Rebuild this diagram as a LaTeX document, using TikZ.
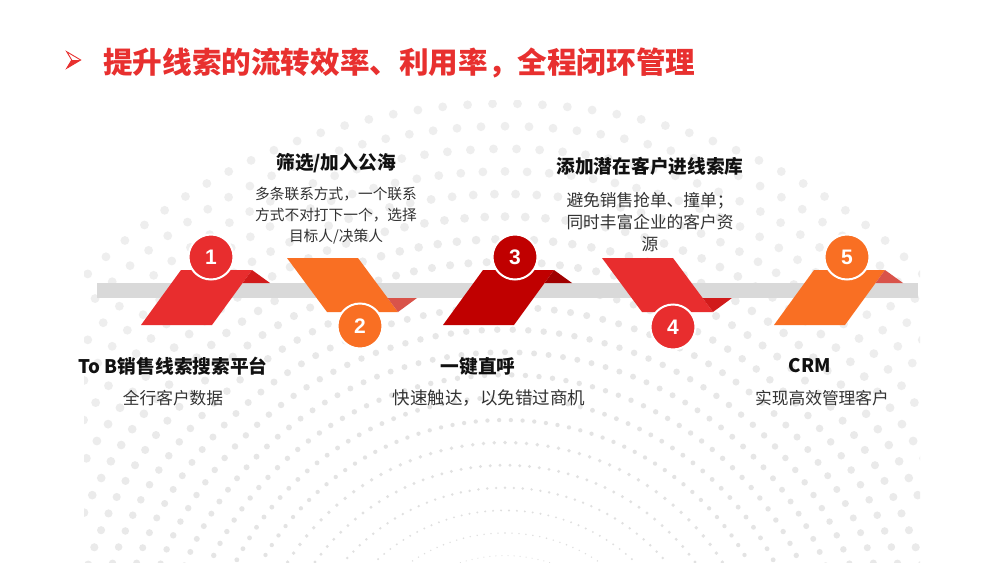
\documentclass[tikz,border=0pt]{standalone}
\usepackage{fontspec}
\setmainfont{Noto Sans CJK SC}
\newfontfamily\numfont{Liberation Sans}
\definecolor{cred}{HTML}{E82D2E}
\definecolor{corange}{HTML}{F96F23}
\definecolor{cdark}{HTML}{C00000}
\definecolor{fred}{HTML}{D11B1B}
\definecolor{fdark}{HTML}{A00000}
\definecolor{forange}{HTML}{D9534A}
\definecolor{cbar}{HTML}{D9D9D9}
\definecolor{ctitle}{HTML}{E8302F}
\definecolor{ctext}{HTML}{111111}
\definecolor{cbody}{HTML}{333333}
\tikzset{
  numc/.style={circle, minimum size=45pt, inner sep=0pt, draw=white, line width=2pt, text=white,
     font=\numfont\bfseries\fontsize{21}{21}\selectfont},
  headt/.style={inner sep=0pt, text=ctext, font=\bfseries\fontsize{18.7}{22}\selectfont},
  bodyt/.style={inner sep=0pt, text=cbody, align=center, font=\fontsize{16.7}{22}\selectfont},
  bodys/.style={inner sep=0pt, text=cbody, align=center, font=\fontsize{14.7}{21}\selectfont},
}
\begin{document}
\begin{tikzpicture}[x=1pt,y=-1pt]
\useasboundingbox (0,0) rectangle (1006,562);
\fill[white] (0,0) rectangle (1006,562);
% background dots
\begin{scope}
\clip (84,100) rectangle (920,562);
\foreach \k in {-1,...,19} {
  \pgfmathsetmacro\R{167+22.6*\k}
  \pgfmathsetmacro\dr{min(4.4,max(0.6,0.8+(\R-167)*0.012))}
  \pgfmathsetmacro\off{mod(\k+1,2)*1.2}
  \pgfmathsetmacro\sh{max(6.5,13-\k*0.4)}
  \foreach \i in {0,...,75} {
    \fill[black!\sh] ({505+\R*cos(\off+2.4*\i)},{700-\R*sin(\off+2.4*\i)}) circle[radius=\dr pt];
  }
}
\end{scope}
% title
\fill[ctitle] (66.7,68.3) -- (80.7,60) -- (71.7,60) -- cycle;
\draw[ctitle, line width=0.9pt, line join=miter] (66.7,51.7) -- (80.7,60) -- (66.7,68.3) -- (71.7,60) -- cycle;
\node[anchor=west, inner sep=0pt, text=ctitle, font=\bfseries\fontsize{29.6}{32}\selectfont] (title) at (103,63) {提升线索的流转效率、利用率，全程闭环管理};
% bar
\fill[cbar] (97,283) rectangle (918,298);
% parallelograms
\fill[cred] (141,325) -- (212,325) -- (252,270) -- (181,270) -- cycle;
\fill[corange] (287,258) -- (358,258) -- (398,312) -- (327,312) -- cycle;
\fill[cdark] (443,325) -- (514,325) -- (554,270) -- (483,270) -- cycle;
\fill[cred] (602,258) -- (673,258) -- (713,312) -- (642,312) -- cycle;
\fill[corange] (774,325) -- (845,325) -- (885,270) -- (814,270) -- cycle;
% folds
\fill[fred] (252,270) -- (270,283) -- (242.5,283) -- cycle;
\fill[fdark] (554,270) -- (572,283) -- (544.5,283) -- cycle;
\fill[forange] (885,270) -- (903,283) -- (875.5,283) -- cycle;
\fill[forange] (387.6,298) -- (417,298) -- (398,312) -- cycle;
\fill[fred] (702.6,298) -- (732,298) -- (713,312) -- cycle;
% circles
\node[numc, fill=cred] (n1) at (211,257) {1};
\node[numc, fill=corange] (n2) at (360,326) {2};
\node[numc, fill=cdark] (n3) at (515,257) {3};
\node[numc, fill=cred] (n4) at (673,327) {4};
\node[numc, fill=corange] (n5) at (847,257) {5};
% texts
\node[headt] (h2) at (336,163) {筛选/加入公海};
\node[bodys] (b2) at (336,216) {多条联系方式，一个联系\\方式不对打下一个，选择\\目标人/决策人};
\node[headt] (h4) at (650,166) {添加潜在客户进线索库};
\node[bodyt] (b4) at (650,222) {避免销售抢单、撞单；\\同时丰富企业的客户资\\源};
\node[headt] (h1) at (173,366) {To B销售线索搜索平台};
\node[bodyt] (b1) at (173,398) {全行客户数据};
\node[headt] (h3) at (478,366) {一键直呼};
\node[bodyt, font=\fontsize{17.5}{22}\selectfont] (b3) at (489,398) {快速触达，以免错过商机};
\node[headt] (h5) at (810,366) {CRM};
\node[bodyt] (b5) at (822,398) {实现高效管理客户};
\end{tikzpicture}
\end{document}
